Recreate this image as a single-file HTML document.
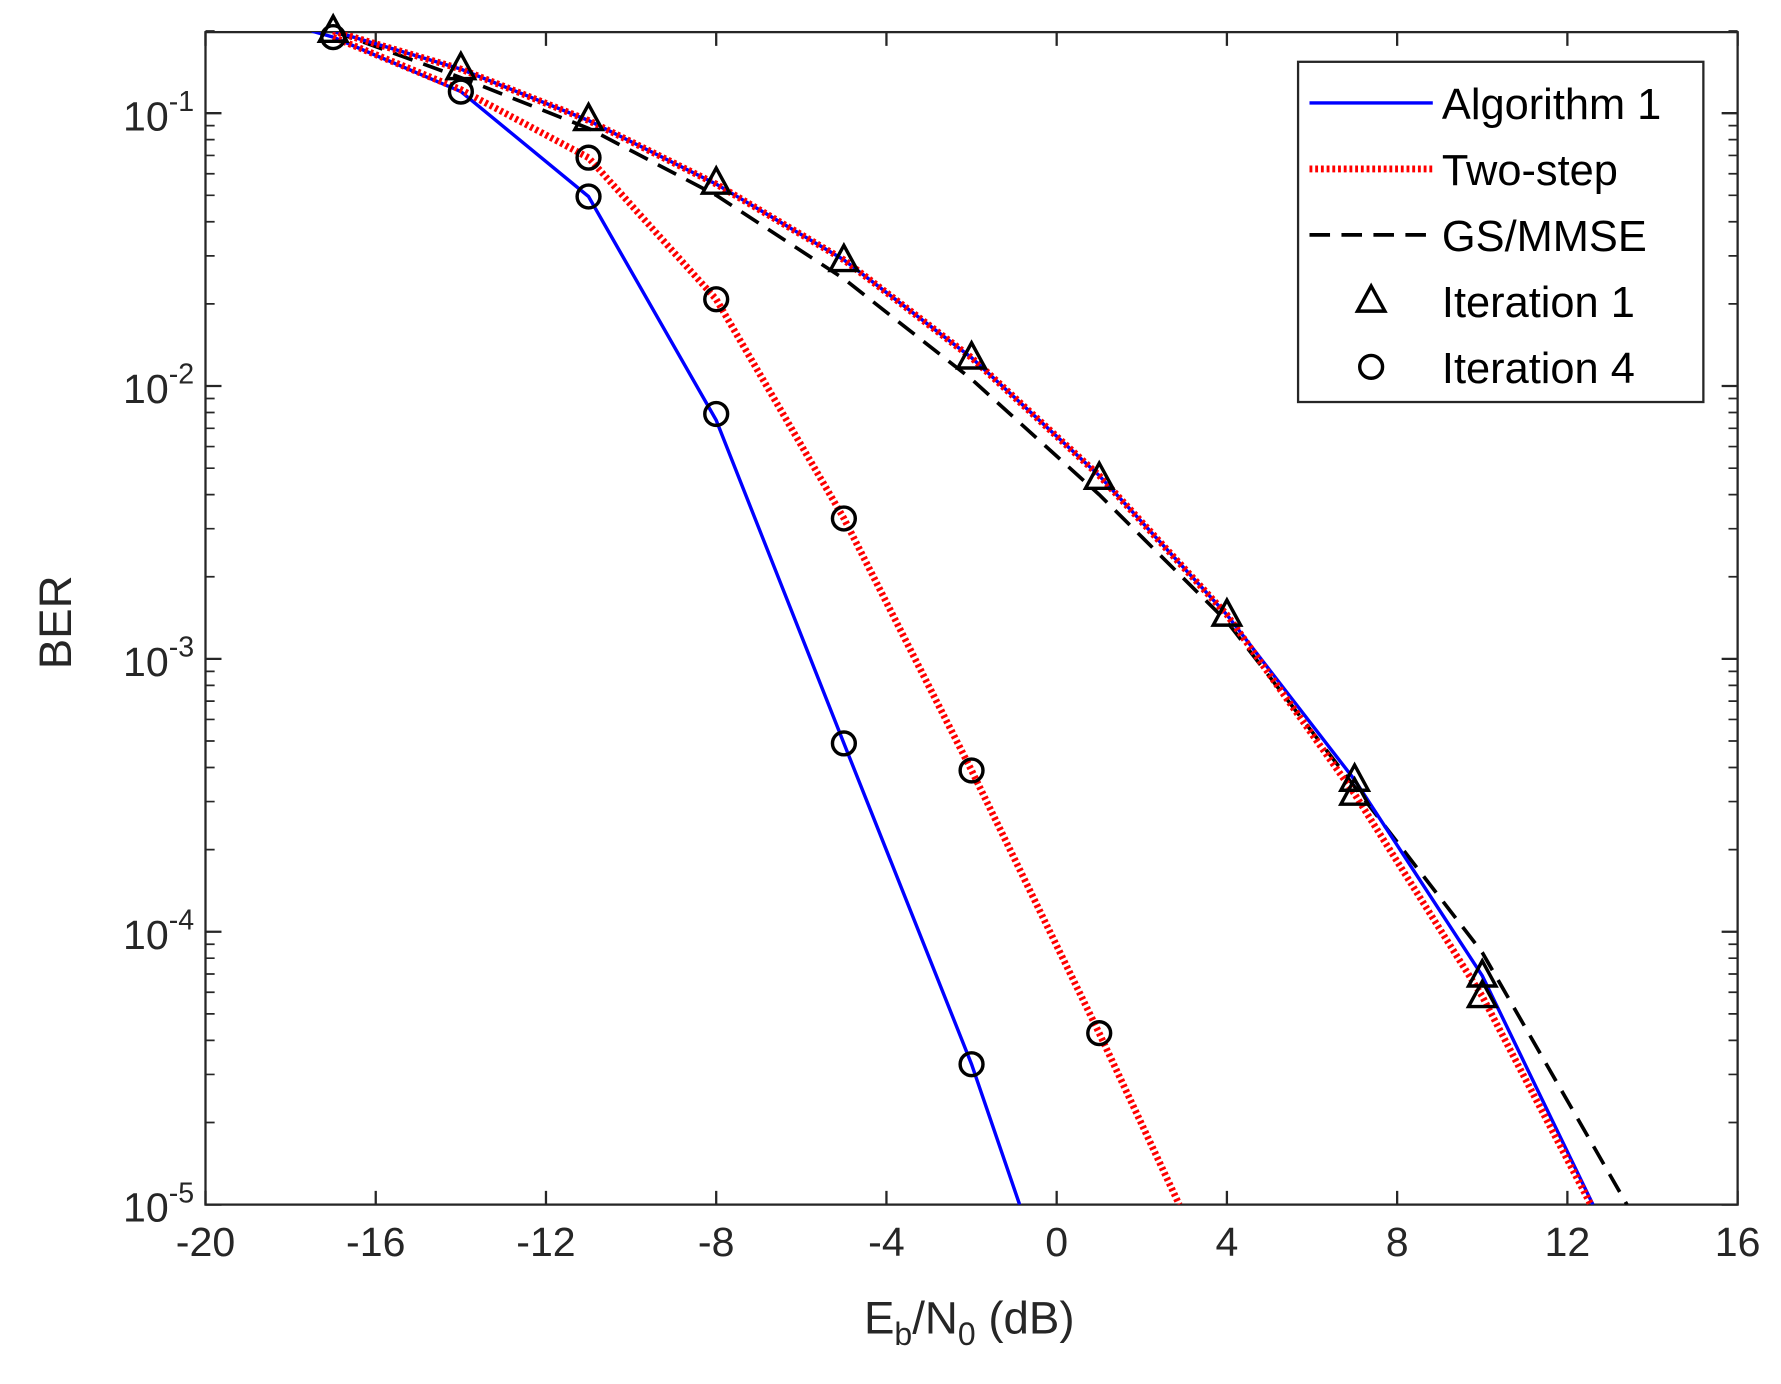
<!DOCTYPE html>
<html><head><meta charset="utf-8"><style>
html,body{margin:0;padding:0;background:#fff;}
svg{display:block;font-family:"Liberation Sans",Arial,sans-serif;}
</style></head><body>
<svg id="chart" width="1781" height="1384" viewBox="0 0 1560 1212" xmlns="http://www.w3.org/2000/svg">
<defs><clipPath id="clip"><rect x="180" y="28" width="1342" height="1027"/></clipPath></defs>
<rect x="0" y="0" width="1560" height="1212" fill="#fff"/>
<g id="axes"></g>
<g id="series" clip-path="url(#clip)"></g>
<g id="markers"></g>
<text x="0" y="0" transform="translate(62,545) rotate(-90)" text-anchor="middle" font-size="40" fill="#262626">BER</text>
<text x="849" y="1168" text-anchor="middle" font-size="40" fill="#262626">E<tspan font-size="28" dy="10">b</tspan><tspan dy="-10">/N</tspan><tspan font-size="28" dy="10">0</tspan><tspan dy="-10"> (dB)</tspan></text>
<g id="legend"></g>
</svg>
<script>
const xTicks=[-20,-16,-12,-8,-4,0,4,8,12,16];
const yDecades=[-5,-4,-3,-2,-1];
// series data
const alg1It1X=[-17,-14,-11,-8,-5,-2,1,4,7,10,12.6];
const alg1It1Y=[0.2,0.145,0.094,0.055,0.029,0.0127,0.0047,0.00145,0.00036,0.000069,0.00001];
const twoIt1X=[-17,-14,-11,-8,-5,-2,1,4,7,10,12.55];
const twoIt1Y=[0.2,0.145,0.094,0.055,0.029,0.0127,0.0047,0.00145,0.00032,0.000058,0.00001];
const gsX=[-17,-14,-11,-8,-5,-2,1,4,7,10,13.4];
const gsY=[0.2,0.135,0.088,0.05,0.0247,0.0106,0.0040,0.00137,0.00034,0.000084,0.00001];
const alg1It4X=[-17.5,-17,-14,-11,-8,-5,-2,-0.87];
const alg1It4Y=[0.2,0.19,0.12,0.0495,0.0075,0.00049,0.0000327,0.00001];
const twoIt4X=[-17,-14,-11,-8,-5,-2,1,2.88];
const twoIt4Y=[0.19,0.122,0.0687,0.0208,0.00327,0.00039,0.0000425,0.00001];
const triX=[-17,-14,-11,-8,-5,-2,1,4,7,7,10,10];
const triY=[0.2,0.146,0.095,0.0555,0.0289,0.0127,0.0046,0.00145,0.00036,0.00032,0.000069,0.000058];
const cirX=[-17,-14,-11,-11,-8,-8,-5,-5,-2,-2,1];
const cirY=[0.19,0.12,0.0687,0.0495,0.0208,0.0079,0.00327,0.00049,0.00039,0.0000327,0.0000425];

const L=180,R=1522,T=28,B=1055;
const sx=v=>L+(v+20)*(R-L)/36;
const sy=v=>B-(Math.log10(v)+5)*239;
const NS="http://www.w3.org/2000/svg";
function mk(tag,attrs,parent){const e=document.createElementNS(NS,tag);for(const k in attrs)e.setAttribute(k,attrs[k]);parent.appendChild(e);return e;}
const axes=document.getElementById('axes');
mk('rect',{x:L,y:T,width:R-L,height:B-T,fill:'none',stroke:'#262626','stroke-width':2},axes);
xTicks.forEach(t=>{
  const x=sx(t);
  const tk=mk('path',{d:`M${x},${B}v-12M${x},${T}v12`,stroke:'#262626','stroke-width':2},axes);
  
  
  const lb=mk('text',{x:x,y:B+45,'text-anchor':'middle','font-size':36,fill:'#262626'},axes);
  
  
  lb.textContent=String(t);
});
yDecades.forEach(d=>{
  const y=sy(Math.pow(10,d));
  const tk=mk('path',{d:`M${L},${y}h14M${R},${y}h-14`,stroke:'#262626','stroke-width':2},axes);
  
  
  const lb=mk('text',{x:L-10,y:y+15,'text-anchor':'end','font-size':36,fill:'#262626'},axes);
  
  
  lb.innerHTML='10<tspan font-size="25" dy="-17">'+d+'</tspan>';
  for(let m=2;m<=9;m++){
    const v=m*Math.pow(10,d); if(v>0.2)break;
    const yy=sy(v);
    const mt=mk('path',{d:`M${L},${yy}h8M${R},${yy}h-8`,stroke:'#262626','stroke-width':1.5},axes);
    
    
  }
});
const series=document.getElementById('series');
function line(xs,ys,style,name){
  const d=xs.map((x,i)=>(i?'L':'M')+sx(x).toFixed(1)+','+sy(ys[i]).toFixed(1)).join('');
  const p=mk('path',Object.assign({d:d,fill:'none'},style),series);
  
  
}
const blue={stroke:'#0000ff','stroke-width':3};
const red={stroke:'#ff0000','stroke-width':6,'stroke-dasharray':'2.5,2.5'};
const blk={stroke:'#000','stroke-width':3.2,'stroke-dasharray':'18,10'};
line(gsX,gsY,blk,'gs-mmse-line');
line(alg1It1X,alg1It1Y,blue,'algorithm1-iteration1-line');
line(twoIt1X,twoIt1Y,red,'two-step-iteration1-line');
line(alg1It4X,alg1It4Y,blue,'algorithm1-iteration4-line');
line(twoIt4X,twoIt4Y,red,'two-step-iteration4-line');
const mg=document.getElementById('markers');
triX.forEach((x,i)=>{
  const cx=sx(x),cy=sy(triY[i]);
  const p=mk('path',{d:`M${cx},${cy-13}L${cx+12},${cy+9}L${cx-12},${cy+9}Z`,fill:'none',stroke:'#000','stroke-width':3},mg);
  
  
});
cirX.forEach((x,i)=>{
  const c=mk('circle',{cx:sx(x),cy:sy(cirY[i]),r:10,fill:'none',stroke:'#000','stroke-width':3},mg);
  
  
});
const lg=document.getElementById('legend');
mk('rect',{x:1137,y:54,width:355,height:298,fill:'#fff',stroke:'#262626','stroke-width':2},lg);
const entries=[['Algorithm 1',blue,null],['Two-step',red,null],['GS/MMSE',blk,null],['Iteration 1',null,'tri'],['Iteration 4',null,'cir']];
entries.forEach((e,i)=>{
  const y=90+i*57.8;
  const g=mk('g',{},lg);
  
  
  if(e[1]) mk('path',Object.assign({d:`M1147,${y}H1255`,fill:'none'},e[1]),g);
  if(e[2]==='tri') mk('path',{d:`M1201,${y-13}L1213,${y+9}L1189,${y+9}Z`,fill:'none',stroke:'#000','stroke-width':3},g);
  if(e[2]==='cir') mk('circle',{cx:1201,cy:y,r:10,fill:'none',stroke:'#000','stroke-width':3},g);
  const t=mk('text',{x:1263,y:y+14,'font-size':38,fill:'#000'},g);
  t.textContent=e[0];
});
</script>
</body></html>
